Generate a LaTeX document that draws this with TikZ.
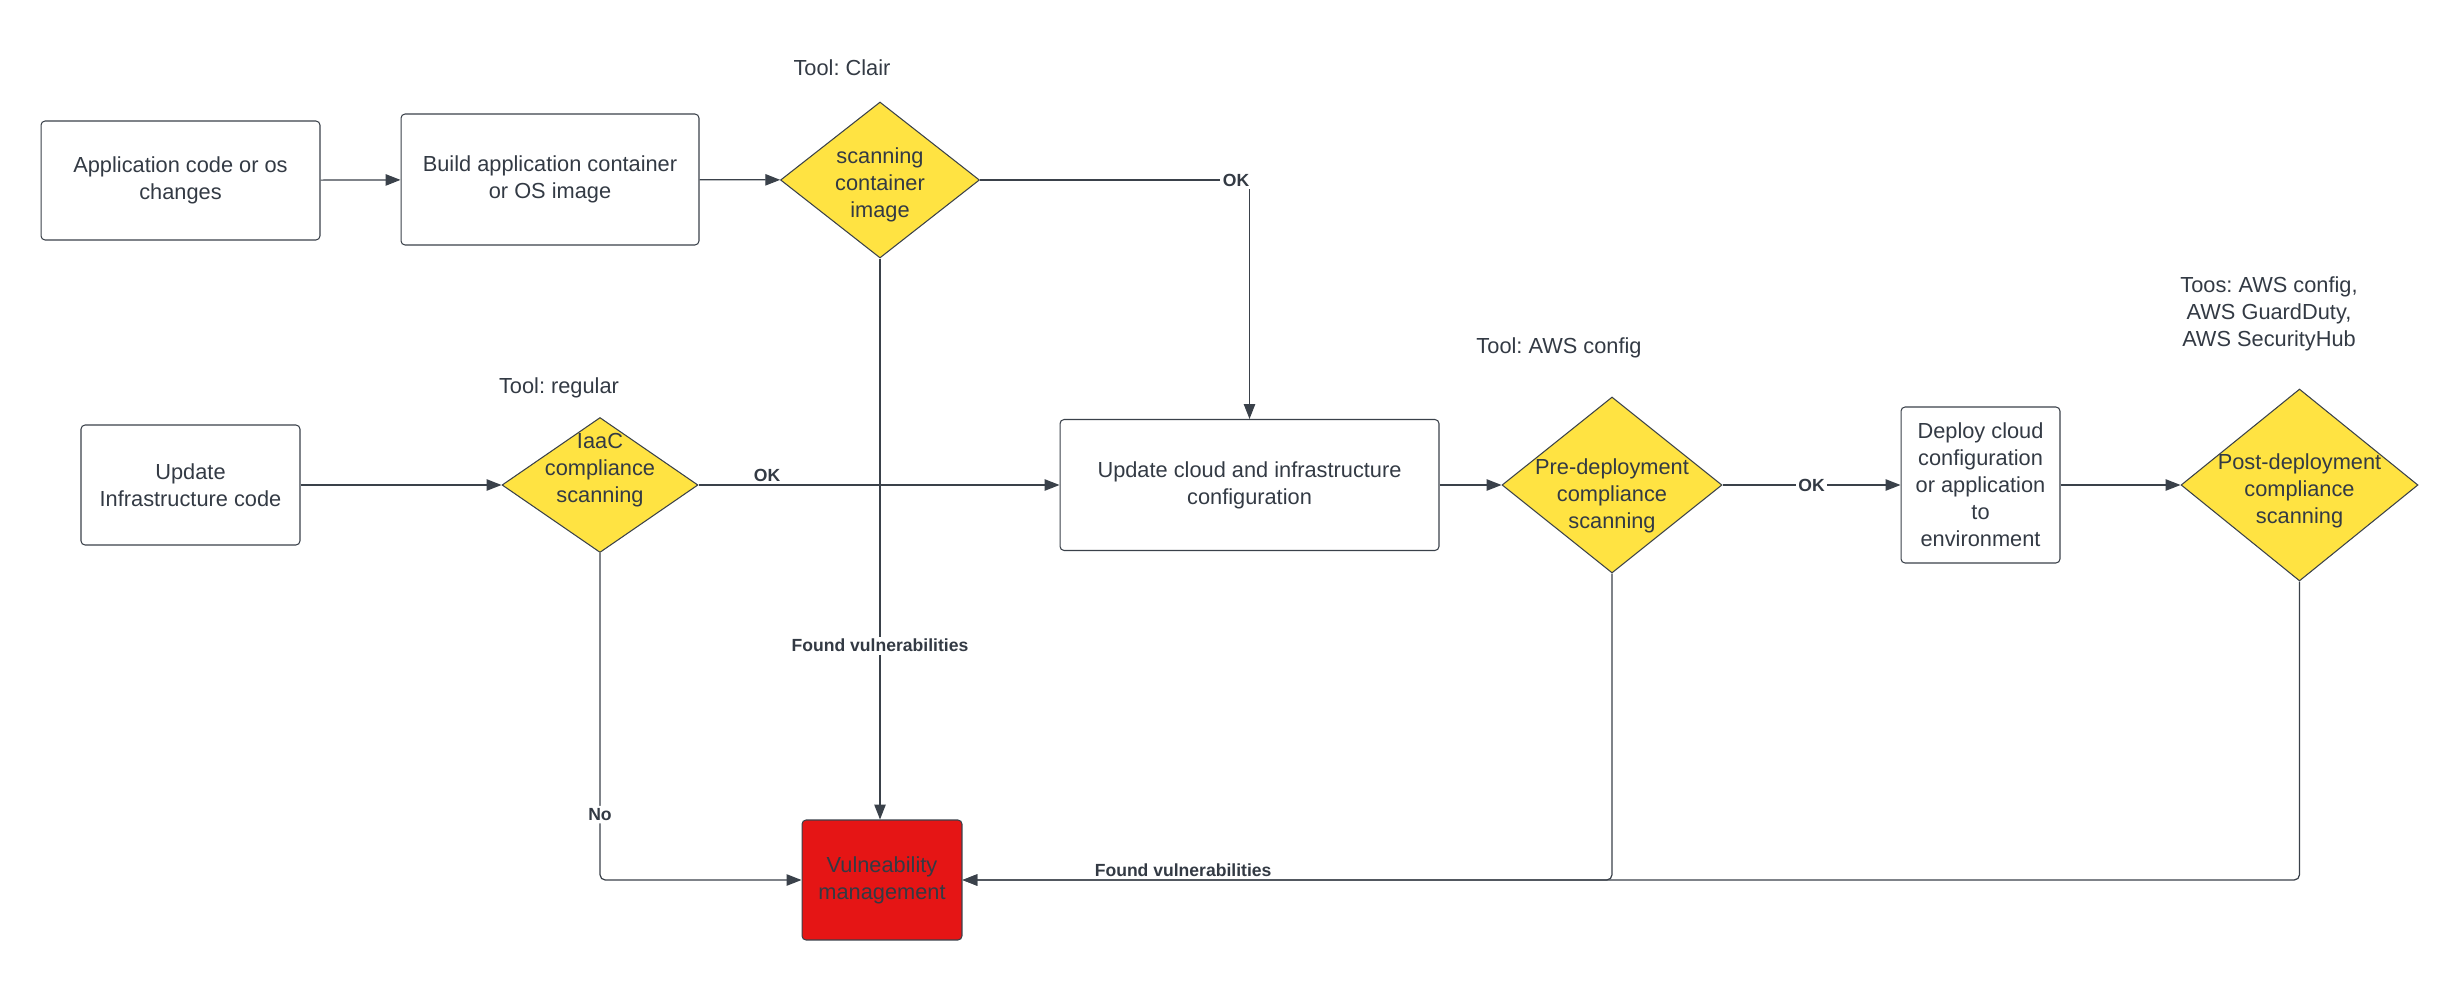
\documentclass[tikz,border=0pt]{standalone}
\usepackage{fontspec}
\setmainfont{Liberation Sans}
\usepackage{xcolor}
\usetikzlibrary{shapes.geometric,arrows.meta}
\definecolor{linecol}{HTML}{3A414A}
\definecolor{textcol}{HTML}{333A44}
\definecolor{scanyellow}{HTML}{FFE342}
\definecolor{vulnred}{HTML}{E51515}
\frenchspacing

\begin{document}
\begin{tikzpicture}[x=0.02cm, y=-0.02cm, font=\fontsize{12.4}{15.4}\selectfont, text=textcol]
			\tikzstyle{stage}=[draw=linecol, line width=0.6pt, rounded corners=2.3pt, align=center, inner sep=2pt]
			\tikzstyle{check}=[diamond, draw=linecol, line width=0.6pt, fill=scanyellow, inner sep=0pt]
			\tikzstyle{inside}=[align=center]
			\tikzstyle{tool}=[align=center]
			\tikzstyle{lbl}=[font=\fontsize{10}{12}\selectfont\bfseries, fill=white, inner sep=1.5pt]
			\tikzset{edge/.style = {draw=linecol, line width=0.7pt, -{Triangle[length=8.5pt,width=6.5pt]}}}
			
			\useasboundingbox (0,0) rectangle (2460,980);
			
			\node[stage, minimum width=5.58cm, minimum height=2.38cm](appcode) at (180.5,180.5) {Application code or os\\changes};
			\node[stage, minimum width=5.96cm, minimum height=2.62cm](buildimg) at (550,179.5) {Build application container\\or OS image};
			\node[check, minimum width=3.98cm, minimum height=3.12cm, label={[inside, yshift=-2.8pt]center:{scanning\\container\\image}}](scanimg) at (880,180) {};
			\node[tool](clairtool) at (842,68) {Tool: Clair};
			
			\node[stage, minimum width=4.38cm, minimum height=2.4cm](infracode) at (190.5,485) {Update\\Infrastructure code};
			\node[check, minimum width=3.92cm, minimum height=2.7cm, label={[inside, yshift=8.5pt]center:{IaaC\\compliance\\scanning}}](iaacscan) at (600,485) {};
			\node[tool](regulartool) at (559,388) {Tool: regular};
			
			\node[stage, minimum width=7.58cm, minimum height=2.62cm](cloudcfg) at (1249.5,485) {Update cloud and infrastructure\\configuration};
			\node[check, minimum width=4.4cm, minimum height=3.52cm, label={[inside, yshift=-6.2pt]center:{Pre-deployment\\compliance\\scanning}}](predeploy) at (1612,485) {};
			\node[tool](awstool) at (1559,348) {Tool: AWS config};
			
			\node[stage, minimum width=3.18cm, minimum height=3.12cm](deployenv) at (1980.5,485) {Deploy cloud\\configuration\\or application\\to\\environment};
			\node[check, minimum width=4.74cm, minimum height=3.84cm, label={[inside, yshift=-3.4pt]center:{Post-deployment\\compliance\\scanning}}](postscan) at (2299.5,485) {};
			\node[tool](posttools) at (2269,314) {Toos: AWS config,\\AWS GuardDuty,\\AWS SecurityHub};
			
			\node[stage, fill=vulnred, minimum width=3.2cm, minimum height=2.4cm](vulnmgmt) at (882,880) {Vulneability\\management};
			
			\draw[edge](appcode) -- (buildimg);
			\draw[edge](buildimg) -- (scanimg);
			\draw[edge](scanimg) -| node[lbl, pos=0.475]{OK} (cloudcfg);
			\draw[edge](scanimg) -- node[lbl, pos=0.69]{Found vulnerabilities} (scanimg |- vulnmgmt.north);
			
			\draw[edge](infracode) -- (iaacscan);
			\draw[edge](iaacscan) -- node[lbl, above, pos=0.19, fill=none]{OK} (cloudcfg);
			\draw[edge, rounded corners=3pt](iaacscan) |- node[lbl, pos=0.4]{No} (vulnmgmt);
			
			\draw[edge](cloudcfg) -- (predeploy);
			\draw[edge](predeploy) -- node[lbl]{OK} (deployenv);
			\draw[edge](deployenv) -- (postscan);
			\draw[edge, rounded corners=3pt](predeploy) |- (vulnmgmt);
			\draw[edge, rounded corners=3pt](postscan) |- node[lbl, above, pos=0.9175, fill=none]{Found vulnerabilities} (vulnmgmt);
			
\end{tikzpicture}
\end{document}
